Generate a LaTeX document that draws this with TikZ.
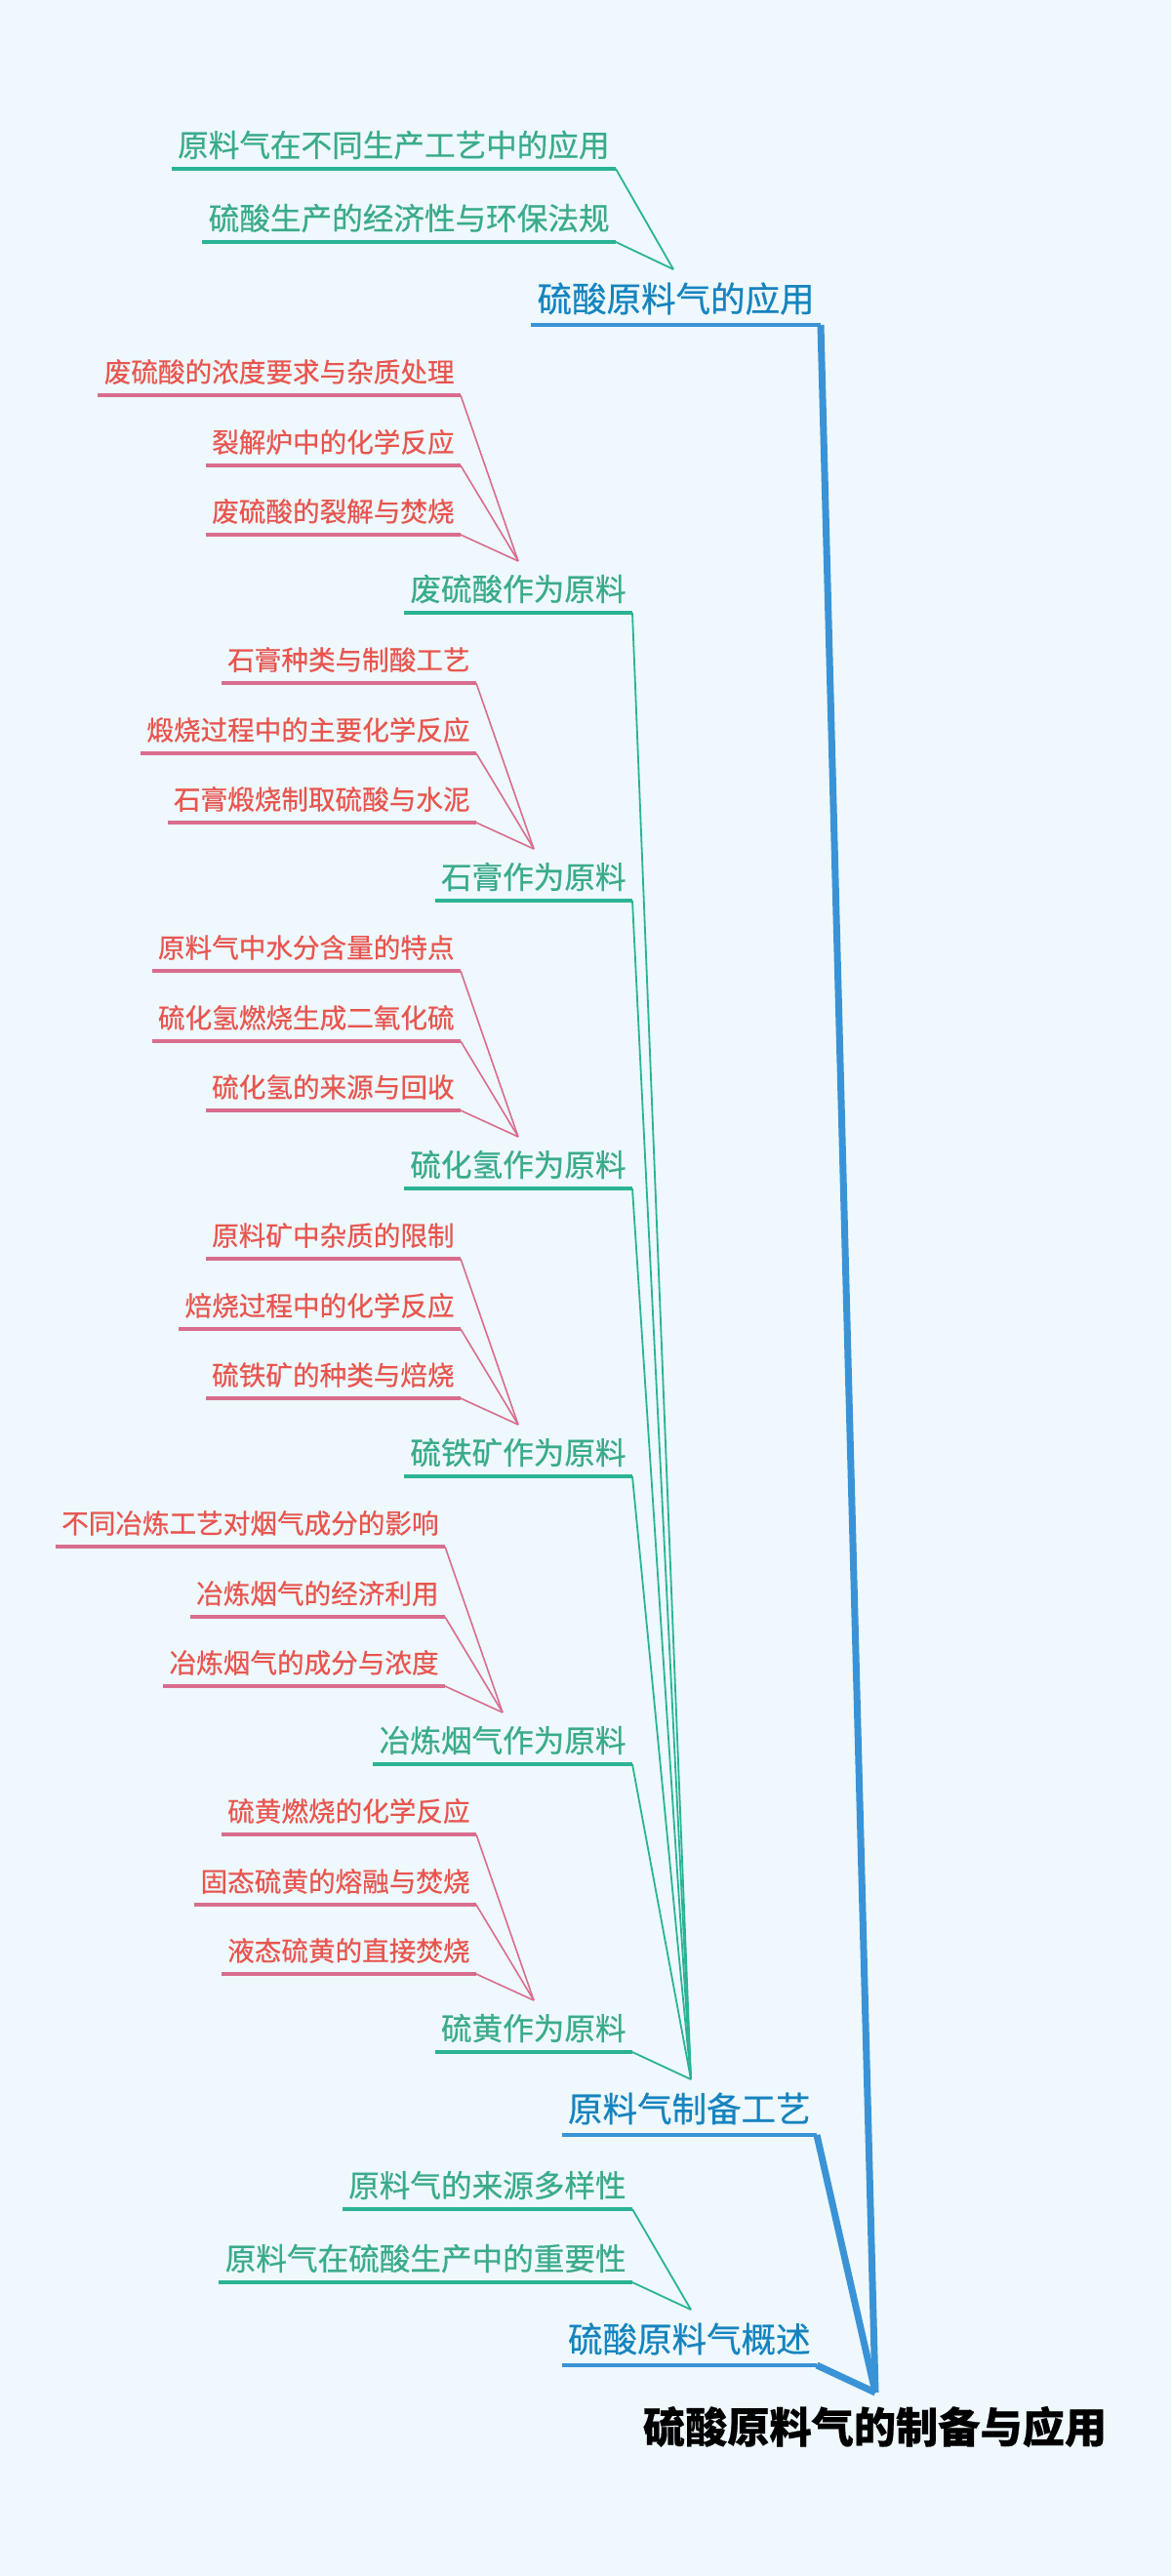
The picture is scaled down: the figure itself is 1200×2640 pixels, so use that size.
\documentclass[tikz,border=0pt]{standalone}
\usepackage{fontspec}
\setmainfont{Noto Sans CJK SC}[FakeBold=0.5]
\usetikzlibrary{calc}
\definecolor{bgc}{HTML}{EEF8FD}
\definecolor{txtone}{HTML}{1684BE}
\definecolor{lineone}{HTML}{3A93D6}
\definecolor{txttwo}{HTML}{3AAB8C}
\definecolor{linetwo}{HTML}{2AB395}
\definecolor{txtthree}{HTML}{E8554E}
\definecolor{linethree}{HTML}{D96D8D}
\newcommand\mmitem[6]{%
  \node[#2 text, anchor=east] (#1) at (#3-6,#4-#5) {#6};
  \coordinate (#1R) at (#3,#4);
  \coordinate (#1W) at ([xshift=-3pt]#1.west);
  \draw[#2 under] (#1W |- #1R) -- (#1R);
}
\tikzset{
  l1 text/.style={text=txtone, inner sep=0pt, font={\fontsize{17.75pt}{20pt}\selectfont}},
  l1 under/.style={draw=lineone, line width=2pt},
  root conn/.style={draw=lineone, line width=3.5pt, line join=round},
  l2 text/.style={text=txttwo, inner sep=0pt, font={\fontsize{15.8pt}{18pt}\selectfont}},
  l2 under/.style={draw=linetwo, line width=1.75pt},
  l2 conn/.style={draw=linetwo, line width=0.9pt},
  l3 text/.style={text=txtthree, inner sep=0pt, font={\fontsize{13.8pt}{16pt}\selectfont}},
  l3 under/.style={draw=linethree, line width=1.75pt},
  l3 conn/.style={draw=linethree, line width=0.8pt},
  root text/.style={text=black, inner sep=0pt, font={\fontsize{21.6pt}{24pt}\selectfont\bfseries}}
}
\begin{document}
\begin{tikzpicture}[x=0.5pt,y=-0.5pt]
\fill[bgc] (0,0) rectangle (1200,2640);
\useasboundingbox (0,0) rectangle (1200,2640);

% root
\node[root text] (root) at (896.5,2487) {硫酸原料气的制备与应用};
\coordinate (rootc) at (897,2452);

% level 1
\mmitem{A}{l1}{841}{333}{27}{硫酸原料气的应用}
\mmitem{B}{l1}{837}{2188}{27}{原料气制备工艺}
\mmitem{C}{l1}{837}{2424}{27}{硫酸原料气概述}
\coordinate (Ac) at (690,276);
\coordinate (Bc) at (708,2131);
\coordinate (Cc) at (708,2367);

% group A
\mmitem{Aa}{l2}{631}{173}{24.5}{原料气在不同生产工艺中的应用}
\mmitem{Ab}{l2}{631}{248}{24.5}{硫酸生产的经济性与环保法规}

% group C
\mmitem{Ca}{l2}{648}{2264}{24.5}{原料气的来源多样性}
\mmitem{Cb}{l2}{648}{2339}{24.5}{原料气在硫酸生产中的重要性}

% group B level 2
\mmitem{Ba}{l2}{648}{628}{24.5}{废硫酸作为原料}
\mmitem{Bb}{l2}{648}{923}{24.5}{石膏作为原料}
\mmitem{Bd}{l2}{648}{1218}{24.5}{硫化氢作为原料}
\mmitem{Be}{l2}{648}{1513}{24.5}{硫铁矿作为原料}
\mmitem{Bf}{l2}{648}{1808}{24.5}{冶炼烟气作为原料}
\mmitem{Bg}{l2}{648}{2103}{24.5}{硫黄作为原料}
\coordinate (Bac) at (531,575);
\coordinate (Bbc) at (547,870);
\coordinate (Bdc) at (531,1165);
\coordinate (Bec) at (531,1460);
\coordinate (Bfc) at (515,1755);
\coordinate (Bgc) at (547,2050);

% level 3
\mmitem{Ba1}{l3}{472}{405}{24}{废硫酸的浓度要求与杂质处理}
\mmitem{Ba2}{l3}{472}{477}{24}{裂解炉中的化学反应}
\mmitem{Ba3}{l3}{472}{548}{24}{废硫酸的裂解与焚烧}

\mmitem{Bb1}{l3}{488}{700}{24}{石膏种类与制酸工艺}
\mmitem{Bb2}{l3}{488}{772}{24}{煅烧过程中的主要化学反应}
\mmitem{Bb3}{l3}{488}{843}{24}{石膏煅烧制取硫酸与水泥}

\mmitem{Bd1}{l3}{472}{995}{24}{原料气中水分含量的特点}
\mmitem{Bd2}{l3}{472}{1067}{24}{硫化氢燃烧生成二氧化硫}
\mmitem{Bd3}{l3}{472}{1138}{24}{硫化氢的来源与回收}

\mmitem{Be1}{l3}{472}{1290}{24}{原料矿中杂质的限制}
\mmitem{Be2}{l3}{472}{1362}{24}{焙烧过程中的化学反应}
\mmitem{Be3}{l3}{472}{1433}{24}{硫铁矿的种类与焙烧}

\mmitem{Bf1}{l3}{456}{1585}{24}{不同冶炼工艺对烟气成分的影响}
\mmitem{Bf2}{l3}{456}{1657}{24}{冶炼烟气的经济利用}
\mmitem{Bf3}{l3}{456}{1728}{24}{冶炼烟气的成分与浓度}

\mmitem{Bg1}{l3}{488}{1880}{24}{硫黄燃烧的化学反应}
\mmitem{Bg2}{l3}{488}{1952}{24}{固态硫黄的熔融与焚烧}
\mmitem{Bg3}{l3}{488}{2023}{24}{液态硫黄的直接焚烧}

% connectors level 3
\foreach \g in {Ba,Bb,Bd,Be,Bf,Bg}{
  \foreach \i in {1,2,3}{
    \draw[l3 conn] (\g\i R) -- (\g c);
  }
}
% connectors level 2
\foreach \g in {Ba,Bb,Bd,Be,Bf,Bg}{
  \draw[l2 conn] (\g R) -- (Bc);
}
\draw[l2 conn] (AaR) -- (Ac);
\draw[l2 conn] (AbR) -- (Ac);
\draw[l2 conn] (CaR) -- (Cc);
\draw[l2 conn] (CbR) -- (Cc);

% root connectors
\draw[root conn] (AR) -- (rootc);
\draw[root conn] (BR) -- (rootc);
\draw[root conn] (CR) -- (rootc);
\end{tikzpicture}
\end{document}
